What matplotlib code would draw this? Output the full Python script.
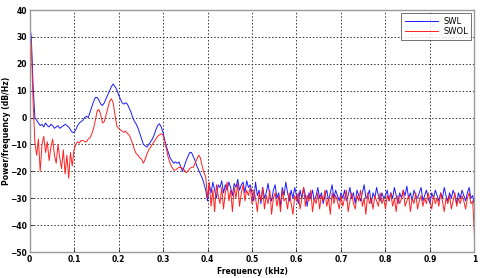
import matplotlib.pyplot as plt
import numpy as np

# frequency grid (kHz), one value every 0.004
freq = np.arange(251) * 0.004

swl = [
    35, 30, 12, 0, -1, -2, -3, -2.5, -3.5, -2, -3, -3.5, -2.5, -3, -4, -3.5, -3, -4, -3.5, -3, -2.5, -3, -3.5, -4.5, -5.5,
    -5.5, -4.5, -3, -2, -1.5, -1, 0, 0.5, 0, 2, 4, 6, 7.5, 7.5, 6.5, 5, 4.5, 5.5, 7, 8.5, 10, 11.5, 12.5, 11.5, 10.5,
    8.5, 7, 5.5, 5, 5.5, 5, 3.5, 2, 0, -1.5, -2.5, -4, -6, -8, -10, -10.5, -11, -10, -9, -8, -6.5, -4.5, -3, -2.3, -3.5,
    -5.5, -8.5, -11, -13, -15, -16, -17, -16.5, -17, -16.5, -18.5, -20, -18, -16, -14.5, -13, -13, -14.5, -16, -18, -19.5, -21, -22.5, -24.5, -27,
    -31, -25, -28, -24, -27, -30, -25, -26, -23.5, -28, -25, -27, -24, -26, -29, -24.5, -26, -23, -27, -25, -24, -28, -23.5, -26, -25,
    -28, -31, -24, -29, -27, -32, -26, -30, -28, -24.5, -29, -31, -27, -25, -30, -28, -33, -26, -29, -24, -28, -31, -27, -30, -26,
    -29, -32, -27, -30, -26, -29, -33, -28, -30, -27, -31, -29, -26, -30, -28, -32, -29, -27, -31, -28, -25, -30, -27, -29, -31,
    -28, -30, -27, -31, -29, -26, -30, -28, -32, -27, -29, -31, -28, -25, -30, -29, -27, -32, -28, -30, -26, -29, -31, -28, -30,
    -29, -27, -31, -28, -30, -26, -29, -32, -28, -30, -27, -29, -25.5, -30, -28, -31, -27, -29, -30, -28, -26, -31, -29, -27, -30,
    -32, -28, -30, -27, -29, -31, -28, -30, -26, -29, -31, -28, -30, -27, -29, -32, -28, -30, -27, -29, -31, -28, -26, -30, -29,
    -33,
]

swol = [
    34, 27, 6, -9, -14, -8, -20, -10, -7, -13, -9, -16, -11, -8, -14, -17, -10, -15, -19, -12, -21, -14, -22.5, -13, -18,
    -12, -10, -9, -9.5, -8.5, -8.5, -9, -9, -8, -7.5, -6, -4, -1, 2.5, 3, 1, -2, -1.5, 1, 3.5, 6, 7, 5.5, 1, -3,
    -4, -4.5, -5, -5.5, -5, -6, -6.5, -8, -10, -12, -13.5, -14, -15, -15.5, -17, -15.5, -13.5, -12, -11, -10, -9, -8, -7, -6.5, -6,
    -6.5, -9, -12, -15, -17, -18.5, -19.5, -19.5, -19, -18.5, -18.5, -19, -19.5, -20.5, -20, -19, -18.5, -18.5, -17, -15.5, -14, -15, -18, -20.5, -22,
    -30, -24, -33, -27, -35, -25, -29, -32, -26, -34, -28, -24, -31, -27, -35, -26, -30, -24.5, -33, -28, -25, -31, -27, -29, -26,
    -32, -27, -30, -35, -28, -31, -26, -34, -29, -32, -27, -36, -30, -28, -33, -29, -35, -27, -31, -30, -34, -28, -32, -36, -29,
    -31, -28, -34, -30, -26, -33, -29, -31, -27, -35, -30, -32, -28, -34, -29, -31, -27, -33, -30, -36, -28, -32, -29, -31, -34,
    -29, -33, -30, -27, -35, -31, -28, -32, -34, -29, -31, -27, -33, -30, -36, -28, -32, -30, -34, -29, -31, -33, -28, -32, -30,
    -34, -29, -31, -28, -33, -30, -35, -29, -32, -30, -27, -33, -31, -29, -35, -30, -32, -28, -34, -31, -29, -33, -30, -32, -28,
    -31, -34, -29, -32, -30, -33, -28, -31, -35, -30, -32, -29, -34, -31, -28, -33, -30, -32, -29, -31, -34, -30, -28, -32, -31,
    -44,
]

fig = plt.figure(figsize=(4.8, 2.78), dpi=100)
ax = fig.add_axes([0.0615, 0.0935, 0.927, 0.8705])

ax.plot(freq, swl, color='#1a1aff', lw=0.7, label='SWL')
ax.plot(freq, swol, color='#ff2020', lw=0.7, label='SWOL')

ax.set_xlim(0, 1)
ax.set_ylim(-50, 40)
ax.set_xticks(np.arange(0, 1.01, 0.1))
ax.set_xticklabels(['0', '0.1', '0.2', '0.3', '0.4', '0.5', '0.6', '0.7', '0.8', '0.9', '1'])
ax.set_yticks(np.arange(-50, 41, 10))

ax.grid(True, linestyle=(0, (1.5, 2)), color='#333333', lw=0.7)
ax.tick_params(direction='in', length=2, width=0.6, labelsize=5.5, pad=2, colors='black')
for lab in ax.get_xticklabels() + ax.get_yticklabels():
    lab.set_fontweight('bold')
for s in ax.spines.values():
    s.set_color('#999999')
    s.set_linewidth(1.0)

ax.set_xlabel('Frequency (kHz)', fontsize=5.5, fontweight='bold', labelpad=2)
ax.set_ylabel('Power/frequency (dB/Hz)', fontsize=5.5, fontweight='bold')
ax.yaxis.set_label_coords(-0.042, 0.5)

leg = ax.legend(loc='upper right', fontsize=6, frameon=True, fancybox=False,
                handlelength=4, borderaxespad=0.4, labelspacing=0.2,
                borderpad=0.4, handletextpad=0.6)
leg.get_frame().set_edgecolor('#333333')
leg.get_frame().set_linewidth(0.6)

fig.savefig('out.png', dpi=100)
